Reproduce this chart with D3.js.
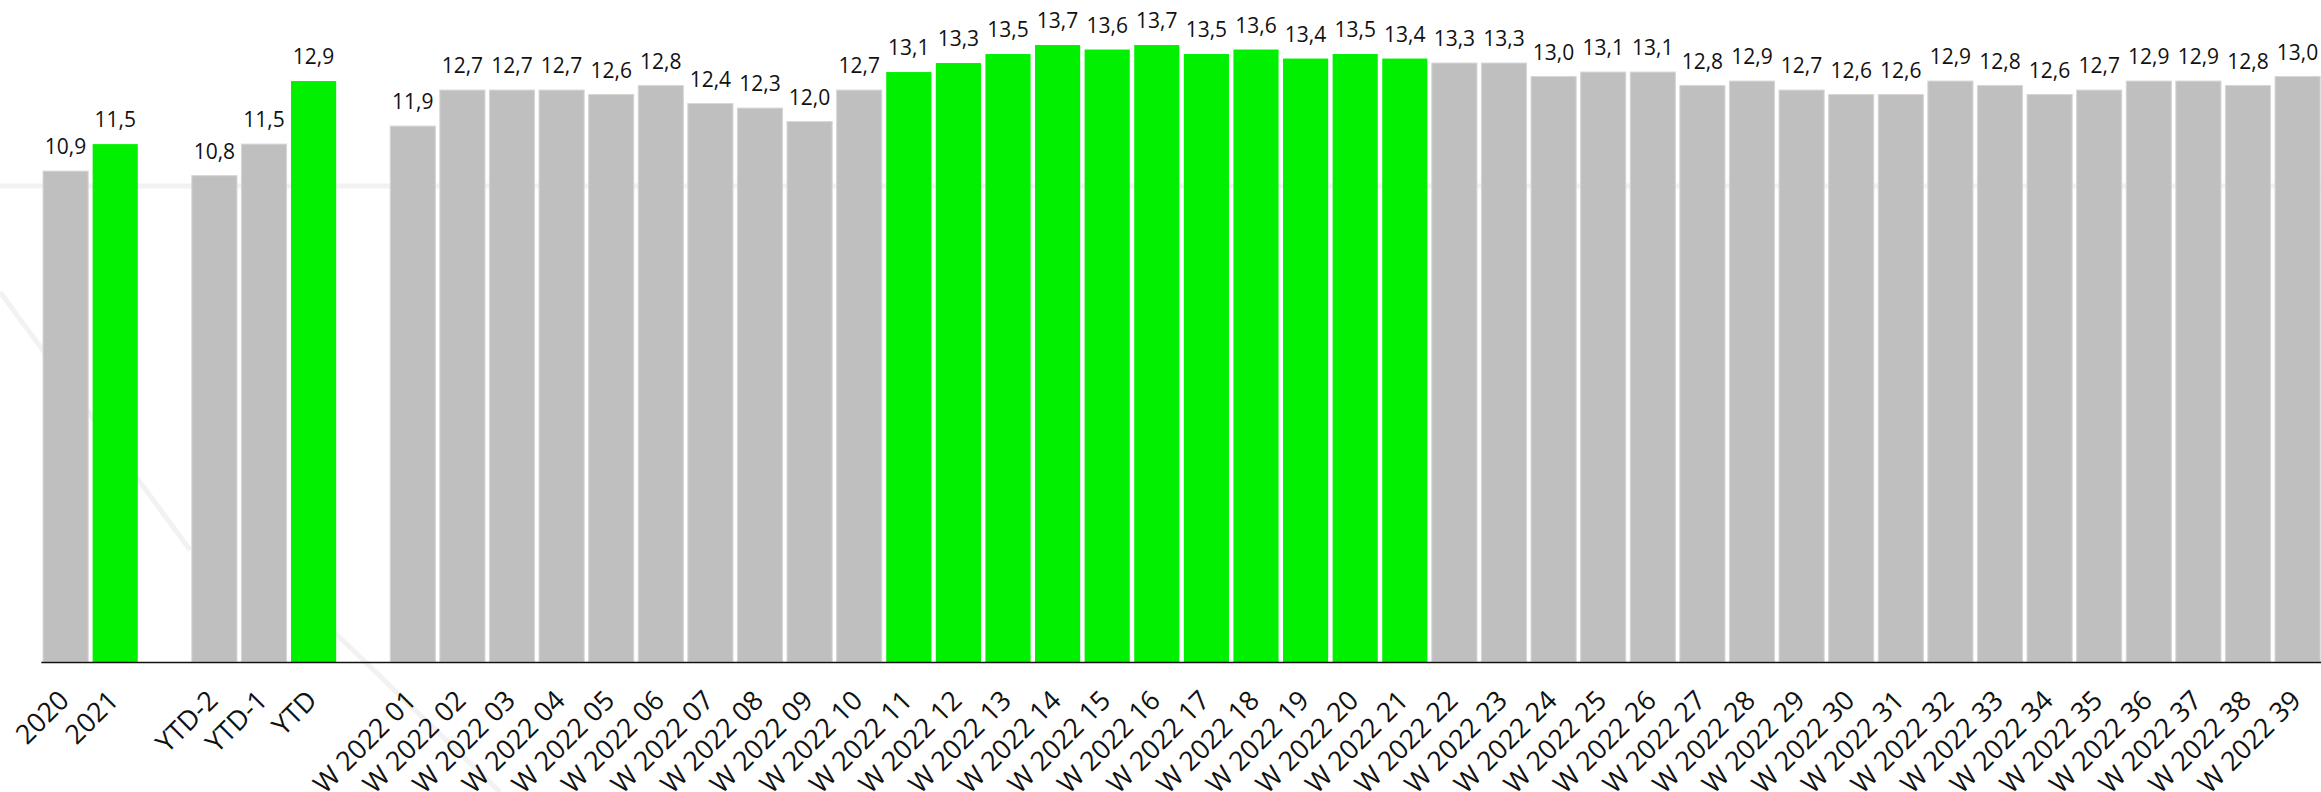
<!DOCTYPE html>
<html>
<head>
<meta charset="utf-8">
<script src="https://cdn.jsdelivr.net/npm/d3@7"></script>
<style>
  html, body { margin: 0; padding: 0; background: #fff; }
  svg { display: block; }
  text { font-family: "Open Sans", "Noto Sans", sans-serif; fill: #111; }
</style>
</head>
<body>
<svg id="chart" width="2321" height="792"></svg>
<script>
// Yearly totals, year-to-date comparisons and weekly values for 2022
const yearCats = ["2020", "2021"];
const yearVals = [10.9, 11.5];

const ytdCats = ["YTD-2", "YTD-1", "YTD"];
const ytdVals = [10.8, 11.5, 12.9];

const weekCats = d3.range(1, 40).map(w => "W 2022 " + String(w).padStart(2, "0"));
const weekVals = [
  11.9, 12.7, 12.7, 12.7, 12.6, 12.8, 12.4, 12.3, 12.0, 12.7,
  13.1, 13.3, 13.5, 13.7, 13.6, 13.7, 13.5, 13.6, 13.4, 13.5,
  13.4, 13.3, 13.3, 13.0, 13.1, 13.1, 12.8, 12.9, 12.7, 12.6,
  12.6, 12.9, 12.8, 12.6, 12.7, 12.9, 12.9, 12.8, 13.0
];

// Highlighted categories (drawn in green)
const highlighted = ["2021", "YTD"].concat(d3.range(11, 22).map(w => "W 2022 " + String(w).padStart(2, "0")));

const rows = []
  .concat(yearCats.map((c, i) => ({ cat: c, value: yearVals[i] })))
  .concat(ytdCats.map((c, i) => ({ cat: c, value: ytdVals[i] })))
  .concat(weekCats.map((c, i) => ({ cat: c, value: weekVals[i] })));

// Slot order with an empty slot between the groups
const slots = [].concat(yearCats, ["__gap1"], ytdCats, ["__gap2"], weekCats);

const svg = d3.select("#chart");
const baseY = 662;

const x = d3.scaleBand()
  .domain(slots)
  .range([40.8, 2322.4])
  .paddingInner(0.09)
  .paddingOuter(0.045);

const y = d3.scaleLinear()
  .domain([0, 14.7])
  .range([baseY, 0]);

const fmt = v => d3.format(".1f")(v).replace(".", ",");

// faint background watermark strokes
const wm = svg.append("g").attr("stroke", "#f2f2f2").attr("fill", "none").attr("stroke-width", 5);
wm.append("line").attr("x1", 0).attr("y1", 186).attr("x2", 2321).attr("y2", 186);
wm.append("line").attr("x1", 0).attr("y1", 292).attr("x2", 190).attr("y2", 550);
wm.append("line").attr("x1", 330).attr("y1", 628).attr("x2", 500).attr("y2", 792);

// bars
svg.append("g")
  .selectAll("rect")
  .data(rows)
  .join("rect")
  .attr("x", d => x(d.cat))
  .attr("width", x.bandwidth())
  .attr("y", d => y(d.value))
  .attr("height", d => baseY - y(d.value))
  .attr("fill", d => highlighted.includes(d.cat) ? "#00f000" : "#bfbfbf")
  .attr("stroke", d => highlighted.includes(d.cat) ? "none" : "#d6d6d6")
  .attr("stroke-width", 1);

// value labels
svg.append("g")
  .selectAll("text")
  .data(rows)
  .join("text")
  .attr("x", d => x(d.cat) + x.bandwidth() / 2)
  .attr("y", d => y(d.value) - 17)
  .attr("text-anchor", "middle")
  .style("font-size", "21px")
  .text(d => fmt(d.value));

// category axis
const axis = svg.append("g")
  .attr("transform", `translate(0,${baseY})`)
  .call(d3.axisBottom(x).tickValues(rows.map(d => d.cat)).tickSize(0).tickSizeOuter(0));

axis.select(".domain").attr("stroke", "#111").attr("stroke-width", 1.4);
axis.selectAll(".tick text")
  .attr("font-family", null)
  .style("font-size", "27px")
  .style("fill", "#111")
  .attr("text-anchor", "end")
  .attr("dy", null)
  .attr("y", 0)
  .attr("transform", "translate(5,40) rotate(-45)");
</script>
</body>
</html>
